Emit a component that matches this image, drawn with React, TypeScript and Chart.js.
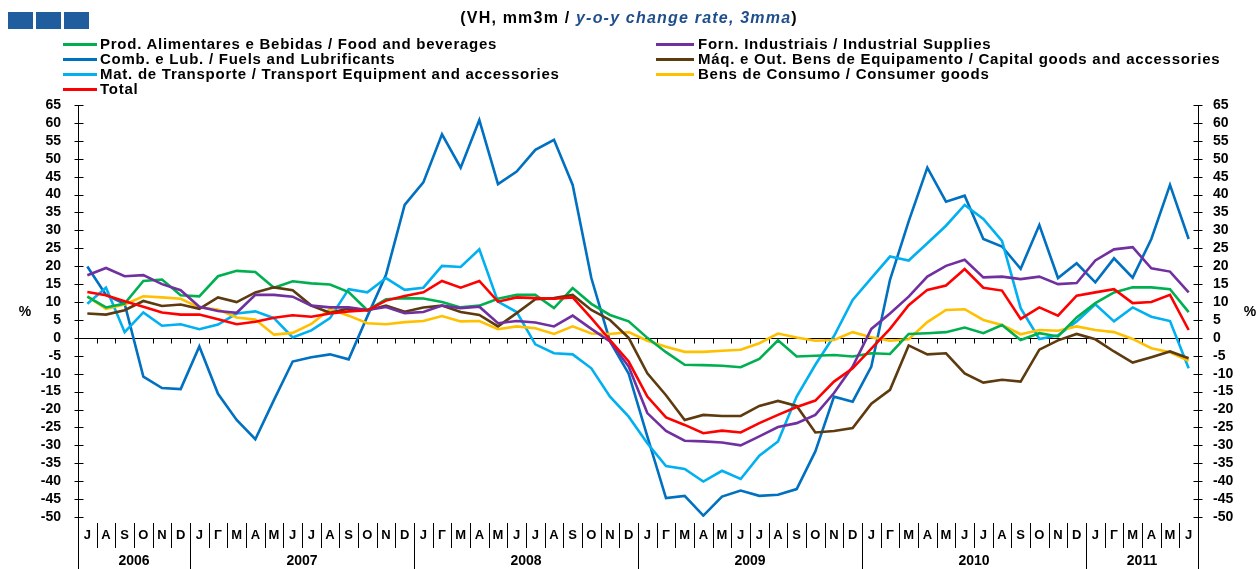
import React, { useEffect, useRef } from "react";
import { Chart, registerables } from "chart.js";
Chart.register(...registerables);

const FONT = '"Liberation Sans", Arial, sans-serif';

const MONTHS = [
  "J", "A", "S", "O", "N", "D",
  "J", "Γ", "M", "A", "M", "J", "J", "A", "S", "O", "N", "D",
  "J", "Γ", "M", "A", "M", "J", "J", "A", "S", "O", "N", "D",
  "J", "Γ", "M", "A", "M", "J", "J", "A", "S", "O", "N", "D",
  "J", "Γ", "M", "A", "M", "J", "J", "A", "S", "O", "N", "D",
  "J", "Γ", "M", "A", "M", "J",
];
const YEARS = ["2006", "2007", "2008", "2009", "2010", "2011"];
const YEAR_SPANS = [6, 12, 12, 12, 12, 6];

const FOOD = [11.5, 8.5, 9.6, 15.9, 16.3, 11.9, 11.6, 17.2, 18.7, 18.4, 14, 15.8, 15.2, 14.9, 12.8, 7.7, 10.8, 11.1, 11, 10, 8.5, 9, 10.9, 12, 12, 8.3, 13.9, 9.5, 6.4, 4.6, 0, -4, -7.5, -7.6, -7.8, -8.2, -5.9, -0.7, -5.2, -5, -4.8, -5.2, -4.3, -4.5, 1.1, 1.3, 1.6, 2.9, 1.3, 3.6, -0.6, 1.3, 0.4, 5.7, 9.7, 12.7, 14.1, 14.1, 13.6, 7.2];
const FUELS = [19.9, 12, 9.5, -10.8, -14, -14.3, -2.4, -15.6, -22.9, -28.3, -17.3, -6.6, -5.4, -4.6, -6, 6, 17.6, 37.1, 43.4, 56.8, 47.5, 60.8, 42.9, 46.4, 52.5, 55.3, 42.7, 16.7, -1, -10, -27.5, -44.7, -44.1, -49.6, -44.3, -42.6, -44.1, -43.8, -42.2, -31.7, -16.4, -17.8, -8, 16.2, 32.5, 47.5, 38, 39.7, 27.6, 25.5, 19.3, 31.5, 16.7, 20.8, 15.5, 22.2, 16.8, 27.6, 42.7, 27.6];
const TRANSPORT = [9.5, 14, 1.6, 7.1, 3.4, 3.8, 2.4, 3.7, 6.8, 7.4, 5.5, 0.1, 2.1, 5.5, 13.6, 12.7, 16.7, 13.4, 14, 20.1, 19.8, 24.7, 10.1, 7.2, -1.8, -4.3, -4.6, -8.5, -16.4, -22, -29.4, -35.8, -36.6, -40.1, -37.1, -39.4, -32.9, -28.9, -16.4, -7.5, 0.5, 10.6, 16.7, 22.7, 21.6, 26.4, 31.3, 37.1, 33.2, 27.1, 8.3, -0.3, 0.7, 4.6, 9.4, 4.6, 8.5, 5.9, 4.7, -8.5];
const TOTAL = [12.8, 11.9, 10.2, 8.7, 7.1, 6.5, 6.5, 5.2, 3.8, 4.5, 5.6, 6.3, 5.9, 6.8, 7.4, 7.7, 10.4, 11.7, 12.7, 15.9, 14, 15.9, 10.1, 11.3, 11.1, 10.9, 11.3, 5.5, -0.6, -6.6, -16.4, -22.2, -24.3, -26.6, -25.9, -26.4, -23.8, -21.5, -19.3, -17.5, -12.2, -8.5, -3, 2.5, 9.1, 13.4, 14.6, 19.2, 14, 13.2, 5.3, 8.5, 6.2, 11.8, 12.7, 13.6, 9.7, 10, 12, 2.2];
const INDUSTRIAL = [17.5, 19.5, 17.2, 17.5, 15, 13.3, 8.7, 7.5, 7, 12, 12, 11.5, 9, 8.5, 8.5, 7.8, 8.6, 6.9, 7.2, 9, 8.3, 8.7, 4.1, 4.7, 4.3, 3.2, 6.2, 2.5, -1, -8, -21, -26, -28.7, -28.9, -29.2, -30, -27.5, -24.9, -23.8, -21.5, -15.4, -8, 2.5, 6.8, 11.5, 17.1, 20.1, 21.8, 16.9, 17.1, 16.4, 17.1, 15, 15.3, 21.6, 24.7, 25.3, 19.4, 18.5, 12.7];
const CAPITAL = [6.8, 6.5, 7.7, 10.3, 8.9, 9.3, 8.1, 11.3, 10, 12.7, 14.1, 13.3, 9, 7, 8.2, 7.7, 9, 7.3, 8.5, 9, 7.2, 6.4, 3.2, 6.9, 10.8, 11.1, 12, 7.8, 5, 0, -9.9, -16, -22.9, -21.5, -21.8, -21.8, -19, -17.6, -19, -26.4, -26, -25.2, -18.4, -14.5, -2.1, -4.6, -4.3, -9.9, -12.5, -11.7, -12.2, -3.3, -0.7, 1.1, -0.4, -3.8, -6.9, -5.4, -3.8, -5.7];
const CONSUMER = [11.6, 8.1, 9.3, 11.6, 11.3, 10.9, 8.5, 7.9, 5.7, 5.1, 0.9, 1.4, 3.9, 8, 6.2, 4.1, 3.8, 4.4, 4.7, 6.1, 4.6, 4.7, 2.4, 3.2, 2.7, 1.1, 3.2, 1.2, 1.1, 1.6, -0.8, -2.5, -3.9, -3.9, -3.6, -3.3, -1.5, 1.2, 0.1, -0.8, -0.6, 1.6, 0.2, -0.8, -0.4, 4.4, 7.8, 8, 5, 3.6, 1, 2.2, 2, 3.2, 2.2, 1.6, -0.3, -2.9, -4, -6.4];

const SERIES_NAMES = [
  "Prod. Alimentares e Bebidas / Food and beverages",
  "Comb. e Lub. /  Fuels and Lubrificants",
  "Mat. de Transporte / Transport Equipment and accessories",
  "Total",
  "Forn. Industriais / Industrial Supplies",
  "Máq. e Out. Bens de Equipamento / Capital goods and accessories",
  "Bens de Consumo / Consumer goods",
];
const SERIES_DATA = [FOOD, FUELS, TRANSPORT, TOTAL, INDUSTRIAL, CAPITAL, CONSUMER];
const SERIES_COLORS = ["#00B050", "#0070C0", "#00B0F0", "#FF0000", "#7030A0", "#5E3A0F", "#FFC000"];
const SERIES_ORDER = [3, 6, 5, 0, 1, 2, 4];

const Y_MIN = -50;
const Y_MAX = 65;
const Y_STEP = 5;

const decorPlugin = {
  id: "decor",
  beforeDatasetsDraw(chart: any) {
    const { ctx, chartArea: a, scales } = chart;
    const y = scales.y;
    const H = chart.height;
    const n = MONTHS.length;
    const w = (a.right - a.left) / n;
    const y0 = Math.round(y.getPixelForValue(0)) + 0.5;
    ctx.save();
    ctx.strokeStyle = "#000";
    ctx.lineWidth = 1;
    ctx.beginPath();
    ctx.moveTo(a.left, y0);
    ctx.lineTo(a.right, y0);
    for (let k = 1; k < n; k++) {
      const bx = Math.round(a.left + k * w) + 0.5;
      ctx.moveTo(bx, y0);
      ctx.lineTo(bx, y0 + 5);
    }
    const lx = Math.round(a.left) + 0.5;
    const rx = Math.round(a.right) + 0.5;
    ctx.moveTo(lx, a.top);
    ctx.lineTo(lx, H);
    ctx.moveTo(rx, a.top);
    ctx.lineTo(rx, H);
    for (let v = Y_MIN; v <= Y_MAX; v += Y_STEP) {
      const py = Math.round(y.getPixelForValue(v)) + 0.5;
      ctx.moveTo(lx - 4, py);
      ctx.lineTo(lx + 5, py);
      ctx.moveTo(rx - 5, py);
      ctx.lineTo(rx + 4, py);
    }
    const yearBounds = new Set<number>();
    let acc = 0;
    yearBounds.add(0);
    YEAR_SPANS.forEach((s) => {
      acc += s;
      yearBounds.add(acc);
    });
    for (let k = 1; k < n; k++) {
      const bx = Math.round(a.left + k * w) + 0.5;
      ctx.moveTo(bx, a.bottom + 6);
      ctx.lineTo(bx, yearBounds.has(k) ? H : a.bottom + 31);
    }
    ctx.stroke();
    ctx.fillStyle = "#000";
    ctx.font = `bold 14px ${FONT}`;
    ctx.textAlign = "center";
    ctx.textBaseline = "middle";
    let start = 0;
    YEARS.forEach((yr, i) => {
      const cx = a.left + (start + YEAR_SPANS[i] / 2) * w;
      ctx.fillText(yr, cx, 561);
      start += YEAR_SPANS[i];
    });
    ctx.fillText("%", 25, 312);
    ctx.fillText("%", 1250, 312);
    ctx.restore();
  },
};

export default function App() {
  const ref = useRef<HTMLCanvasElement | null>(null);

  useEffect(() => {
    if (!ref.current) return;
    const tickFont = { family: FONT, size: 14, weight: "bold" as const };
    const chart = new Chart(ref.current, {
      type: "line",
      data: {
        labels: MONTHS,
        datasets: SERIES_DATA.map((d, i) => ({
          label: SERIES_NAMES[i],
          data: d,
          borderColor: SERIES_COLORS[i],
          backgroundColor: SERIES_COLORS[i],
          borderWidth: 2.6,
          pointRadius: 0,
          tension: 0,
          fill: false,
          order: SERIES_ORDER[i],
          yAxisID: "y",
        })),
      },
      options: {
        responsive: false,
        animation: false,
        devicePixelRatio: 1,
        layout: { padding: { top: 105, left: 0, right: 0, bottom: 0 } },
        plugins: { legend: { display: false }, tooltip: { enabled: false }, title: { display: false } },
        scales: {
          x: {
            type: "category",
            offset: true,
            grid: { display: false, drawTicks: false },
            border: { display: false },
            ticks: {
              autoSkip: false,
              maxRotation: 0,
              minRotation: 0,
              padding: 11,
              color: "#000",
              font: { family: FONT, size: 13, weight: "bold" },
            },
            afterFit: (s: any) => {
              s.height = 52;
            },
          },
          y: {
            position: "left",
            min: Y_MIN,
            max: Y_MAX,
            grid: { display: false, drawTicks: false },
            border: { display: false },
            ticks: { stepSize: Y_STEP, autoSkip: false, padding: 17, color: "#000", font: tickFont },
            afterFit: (s: any) => {
              s.width = 78;
            },
          },
          y2: {
            position: "right",
            min: Y_MIN,
            max: Y_MAX,
            grid: { display: false, drawTicks: false },
            border: { display: false },
            ticks: { stepSize: Y_STEP, autoSkip: false, padding: 15, color: "#000", font: tickFont },
            afterFit: (s: any) => {
              s.width = 60;
            },
          },
        },
      } as any,
      plugins: [decorPlugin],
    });
    return () => chart.destroy();
  }, []);

  const legendLeft = [0, 1, 2, 3];
  const legendRight = [4, 5, 6];
  const rowY = [44, 59, 74, 89];

  const legendItem = (idx: number, row: number, lineX: number, lineW: number, textX: number) => (
    <div key={idx}>
      <div
        style={{
          position: "absolute",
          left: lineX,
          top: rowY[row] - 1.5,
          width: lineW,
          height: 3,
          background: SERIES_COLORS[idx],
        }}
      />
      <div
        style={{
          position: "absolute",
          left: textX,
          top: rowY[row] - 9,
          height: 18,
          lineHeight: "18px",
          fontFamily: FONT,
          fontWeight: "bold",
          fontSize: 15,
          letterSpacing: "0.75px",
          color: "#000",
          whiteSpace: "nowrap",
        }}
      >
        {SERIES_NAMES[idx]}
      </div>
    </div>
  );

  return (
    <div
      style={{
        position: "absolute",
        left: 0,
        top: 0,
        width: 1258,
        height: 569,
        background: "#fff",
        overflow: "hidden",
      }}
    >
      <canvas ref={ref} width={1258} height={569} style={{ position: "absolute", left: 0, top: 0, display: "block" }} />
      {[8, 36, 64].map((x) => (
        <div key={x} style={{ position: "absolute", left: x, top: 12, width: 25, height: 17, background: "#1F5D9E" }} />
      ))}
      <div
        style={{
          position: "absolute",
          left: 0,
          top: 9,
          width: 1258,
          textAlign: "center",
          fontFamily: FONT,
          fontWeight: "bold",
          fontSize: 16,
          letterSpacing: "1.2px",
          lineHeight: "18px",
          color: "#000",
          whiteSpace: "nowrap",
        }}
      >
        <span>(VH, mm3m / </span>
        <span style={{ color: "#1F4E8C", fontStyle: "italic" }}>y-o-y change rate, 3mma</span>
        <span>)</span>
      </div>
      {legendLeft.map((idx, r) => legendItem(idx, r, 63, 34, 100))}
      {legendRight.map((idx, r) => legendItem(idx, r, 656, 38, 698))}
    </div>
  );
}
